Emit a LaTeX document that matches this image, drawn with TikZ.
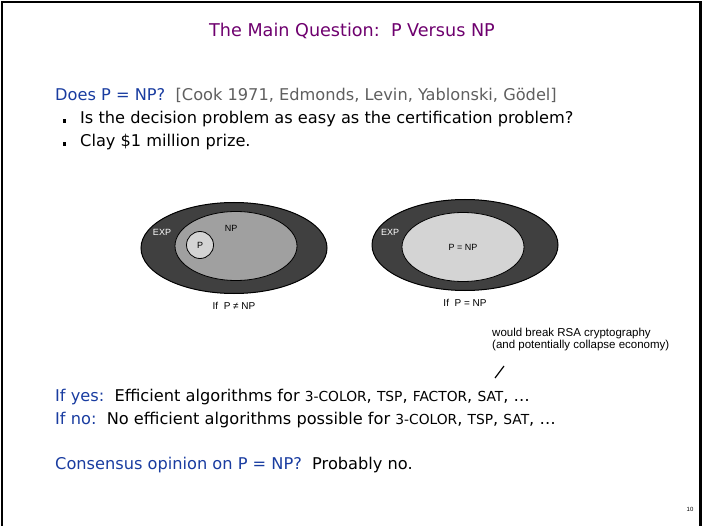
\documentclass[tikz,border=0pt]{standalone}
\usepackage{fontspec}
\setmainfont{DejaVu Sans}
\newfontfamily\smallfont{Liberation Sans}
\usetikzlibrary{positioning,shapes.geometric}

\definecolor{titlepurple}{RGB}{110,0,110}
\definecolor{askblue}{RGB}{25,60,160}
\definecolor{citegray}{RGB}{95,95,95}
\definecolor{expgray}{RGB}{64,64,64}
\definecolor{npgray}{RGB}{160,160,160}
\definecolor{pgray}{RGB}{212,212,212}

% problem names are set a little smaller
\newcommand{\probname}[1]{{\fontsize{13.8}{17}\selectfont #1}}

\begin{document}
\begin{tikzpicture}
[x=1pt, y=-1pt, inner sep=0pt, node distance=10pt,
% STYLES
body/.style={font=\fontsize{16.2}{20}\selectfont, anchor=base west},
ask/.style={body, text=askblue},
bulletbox/.style={rectangle, fill=black, minimum size=3.2pt},
% The sets are drawn as filled ellipses
expset/.style={ellipse, draw=black, fill=expgray, line width=1pt, minimum width=186pt, minimum height=91pt},
npset/.style={ellipse, draw=black, fill=npgray, line width=0.8pt, minimum width=122pt, minimum height=69pt},
pset/.style={circle, draw=black, fill=pgray, line width=0.8pt, minimum size=27pt},
setlabel/.style={font=\smallfont\fontsize{9}{11}\selectfont},
caption/.style={font=\smallfont\fontsize{10}{12}\selectfont},
note/.style={font=\smallfont\fontsize{11.5}{12}\selectfont, align=left, anchor=north west}]

\useasboundingbox (0,0) rectangle (703,526);
\draw[line width=2.5pt] (2,540) -- (2,2) -- (700.5,2) -- (700.5,540);

% Title
\node[font=\fontsize{17.6}{22}\selectfont, text=titlepurple] (title) at (352,31) {The Main Question:\ \ P Versus NP};

% Question and bullets
\node[ask] (question) at (55,101) {Does P = NP?};
\node[body, text=citegray, base right=10pt of question] (cite) {[Cook 1971, Edmonds, Levin, Yablonski, Gödel]};
\node[body] (bullet-easy) at (80,124) {Is the decision problem as easy as the certification problem?};
\node[body] (bullet-prize) at (80,147) {Clay \$1 million prize.};
\node[bulletbox, left=14pt of bullet-easy.base west, yshift=3pt] (dot-easy) {};
\node[bulletbox, left=14pt of bullet-prize.base west, yshift=3pt] (dot-prize) {};

% Left picture: P != NP
\node[expset] (exp-left) at (234,248) {};
\node[npset] (np-left) at (236,246) {};
\node[pset] (p-left) at (200,245) {};
\node[setlabel, text=white] (exp-left-lbl) at (162,232) {EXP};
\node[setlabel] (np-left-lbl) at (231,228) {NP};
\node[setlabel] (p-left-lbl) at (p-left) {P};
\node[caption, below=8pt of exp-left] (if-neq) {If\ \ P ≠ NP};

% Right picture: P = NP
\node[expset] (exp-right) at (465,245) {};
\node[npset, fill=pgray] (pnp-right) at (463,247) {};
\node[setlabel, text=white] (exp-right-lbl) at (390,232) {EXP};
\node[setlabel] (pnp-right-lbl) at (pnp-right) {P = NP};
\node[caption, below=8pt of exp-right] (if-eq) {If\ \ P = NP};

% RSA remark
\node[note] (rsa-note) at (492,328) {would break RSA cryptography\\(and potentially collapse economy)};
\coordinate (factor-tip) at (495,378);
\coordinate (note-tip) at (504,366);
\draw[line width=1.2pt] (factor-tip) -- (note-tip);

% Consequences
\node[body] (if-yes) at (55,401) {\textcolor{askblue}{If yes:}\ \ Efficient algorithms for \probname{3-COLOR}, \probname{TSP}, \probname{FACTOR}, \probname{SAT}, \ldots};
\node[body] (if-no) at (55,424) {\textcolor{askblue}{If no:}\ \ No efficient algorithms possible for \probname{3-COLOR}, \probname{TSP}, \probname{SAT}, \ldots};
\node[body] (consensus) at (55,469) {\textcolor{askblue}{Consensus opinion on P = NP?}\ \ Probably no.};

% Page number
\node[font=\smallfont\fontsize{6}{7}\selectfont] (page-no) at (690,509) {10};

\end{tikzpicture}
\end{document}
